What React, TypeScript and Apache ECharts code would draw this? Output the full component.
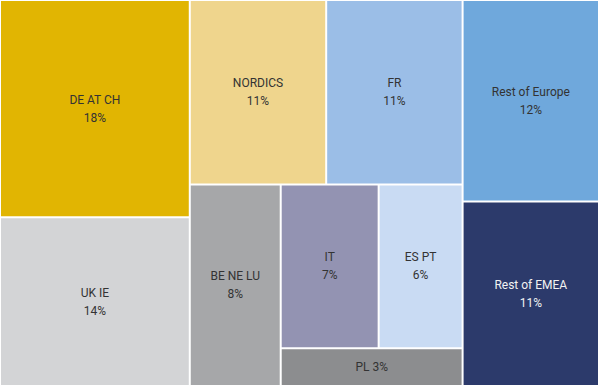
import React, { useEffect, useRef } from "react";
import * as echarts from "echarts";

// Regions and their share (%) as labelled in the chart
const regions = [
  "DE AT CH",
  "UK IE",
  "NORDICS",
  "FR",
  "BE NE LU",
  "IT",
  "ES PT",
  "PL",
  "Rest of Europe",
  "Rest of EMEA",
];
const shares = [18, 14, 11, 11, 8, 7, 6, 3, 12, 11];

const colors: Record<string, string> = {
  "DE AT CH": "#E1B502",
  "UK IE": "#D3D4D6",
  NORDICS: "#EFD58D",
  FR: "#9BBEE7",
  "BE NE LU": "#A6A7A9",
  IT: "#9393B2",
  "ES PT": "#C9DBF3",
  PL: "#8C8D8F",
  "Rest of Europe": "#6FA8DC",
  "Rest of EMEA": "#2C3A6B",
};

function leaf(name: string) {
  const i = regions.indexOf(name);
  const v = shares[i];
  const dark = name === "Rest of EMEA";
  return {
    name,
    value: v,
    itemStyle: { color: colors[name] },
    label: {
      color: dark ? "#F2F2F2" : "#333333",
      formatter: v < 5 ? "{b} {c}%" : "{b}\n{c}%",
    },
  };
}

export default function App() {
  const ref = useRef<HTMLDivElement>(null);
  useEffect(() => {
    if (!ref.current) return;
    const chart = echarts.init(ref.current, undefined, { renderer: "svg" });
    const tree = [
      { name: "g1", children: [leaf("DE AT CH"), leaf("UK IE")] },
      {
        name: "g2",
        children: [
          leaf("NORDICS"),
          leaf("FR"),
          {
            name: "g2b",
            children: [
              leaf("BE NE LU"),
              { name: "g2c", children: [leaf("IT"), leaf("ES PT"), leaf("PL")] },
            ],
          },
        ],
      },
      { name: "g3", children: [leaf("Rest of Europe"), leaf("Rest of EMEA")] },
    ];
    const lvl = { itemStyle: { borderWidth: 0, gapWidth: 2, borderColor: "#fff" } };
    chart.setOption({
      animation: false,
      tooltip: { show: false },
      series: [
        {
          type: "treemap",
          left: 1,
          top: 1,
          right: 2,
          bottom: 3,
          sort: false,
          roam: false,
          nodeClick: false,
          breadcrumb: { show: false },
          squareRatio: 1,
          levels: [lvl, lvl, lvl, lvl, lvl],
          itemStyle: { borderWidth: 0, gapWidth: 2, borderColor: "#fff" },
          label: {
            show: true,
            position: "inside",
            align: "center",
            verticalAlign: "middle",
            fontFamily: "Roboto",
            fontSize: 12,
            lineHeight: 18,
            color: "#333333",
          },
          upperLabel: { show: false },
          emphasis: { disabled: true },
          data: tree,
        },
      ],
    });
    return () => chart.dispose();
  }, []);
  return (
    <div
      ref={ref}
      style={{ position: "absolute", left: 0, top: 0, width: 600, height: 388 }}
    />
  );
}
